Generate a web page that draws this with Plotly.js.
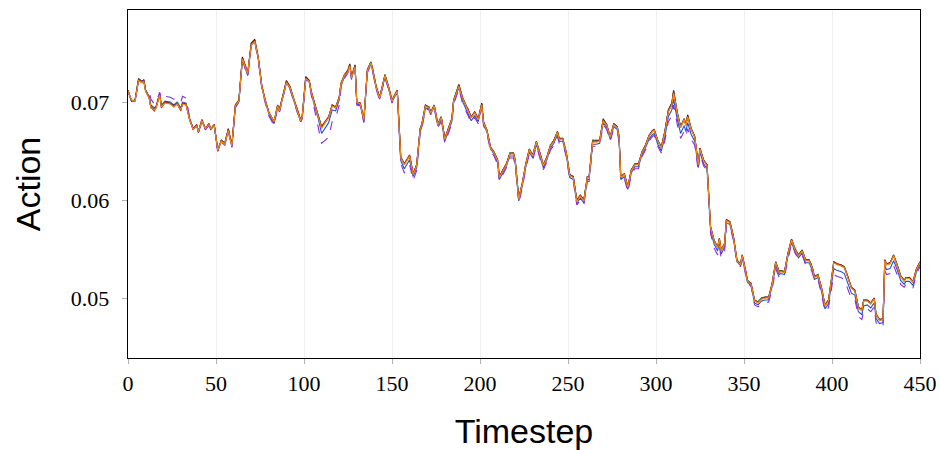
<!DOCTYPE html>
<html>
<head>
<meta charset="utf-8">
<script src="https://cdn.plot.ly/plotly-3.0.1.min.js"></script>
<style>html,body{margin:0;padding:0;background:#fff;}#chart{width:940px;height:450px;}</style>
</head>
<body>
<div id="chart"></div>
<script>
const timestep = [0,2,4,6,8,9,10,12,13,15,16,18,19,21,24,26,28,30,31,33,35,37,39,40,42,44,46,47,49,51,53,55,57,59,61,63,65,67,68,70,72,74,76,78,80,83,85,86,88,90,92,94,96,98,99,101,103,104,106,108,110,112,114,116,118,120,121,123,125,126,127,129,130,132,134,136,138,139,141,143,145,146,148,150,152,153,155,157,159,160,162,164,166,167,169,171,172,174,176,178,180,182,184,185,187,188,190,192,193,195,197,199,201,202,204,206,208,210,211,213,215,217,219,220,222,224,226,228,230,232,234,236,238,240,242,244,245,247,249,251,253,255,257,259,261,262,264,266,268,270,272,274,276,278,279,280,282,284,286,288,290,292,294,296,298,299,301,303,305,307,309,310,312,314,316,317,318,320,322,324,325,327,329,330,331,333,335,336,337,339,340,342,344,346,348,349,351,352,354,356,358,360,362,364,366,368,370,371,373,375,377,379,381,383,385,387,388,389,390,392,394,396,398,400,401,403,405,407,409,411,413,415,417,418,420,422,424,425,427,429,430,431,433,435,437,439,441,442,444,446,448,450];

const seriesBlack = [.0712,.0701,.0702,.0724,.0721,.0723,.0712,.0705,.0695,.0692,.0695,.0709,.0695,.0700,.0699,.0696,.0699,.0692,.0699,.0698,.0683,.0673,.0677,.0670,.0682,.0673,.0678,.0673,.0677,.0651,.0661,.0658,.0673,.0656,.0697,.0702,.0746,.0736,.0729,.0760,.0764,.0746,.0717,.0702,.0690,.0680,.0697,.0692,.0707,.0722,.0716,.0704,.0694,.0682,.0686,.0726,.0722,.0712,.0699,.0688,.0675,.0680,.0685,.0697,.0695,.0705,.0719,.0728,.0733,.0739,.0726,.0738,.0700,.0699,.0682,.0733,.0741,.0734,.0716,.0705,.0719,.0728,.0716,.0702,.0709,.0712,.0644,.0637,.0643,.0646,.0627,.0636,.0673,.0678,.0697,.0695,.0690,.0697,.0678,.0685,.0663,.0673,.0683,.0702,.0712,.0718,.0705,.0697,.0694,.0685,.0690,.0683,.0699,.0680,.0671,.0654,.0649,.0641,.0624,.0631,.0637,.0648,.0648,.0641,.0602,.0617,.0637,.0652,.0646,.0660,.0649,.0636,.0644,.0656,.0661,.0670,.0663,.0663,.0649,.0626,.0624,.0600,.0605,.0600,.0624,.0624,.0661,.0661,.0661,.0683,.0677,.0665,.0678,.0675,.0665,.0624,.0627,.0614,.0631,.0637,.0637,.0649,.0656,.0666,.0671,.0672,.0661,.0654,.0670,.0692,.0699,.0712,.0690,.0675,.0683,.0677,.0687,.0673,.0665,.0637,.0653,.0641,.0636,.0603,.0573,.0559,.0552,.0561,.0549,.0556,.0580,.0578,.0563,.0539,.0535,.0544,.0528,.0518,.0515,.0498,.0496,.0500,.0501,.0501,.0515,.0537,.0527,.0528,.0527,.0546,.0560,.0550,.0544,.0549,.0539,.0539,.0535,.0530,.0522,.0524,.0511,.0493,.0498,.0522,.0537,.0535,.0534,.0532,.0522,.0511,.0508,.0491,.0488,.0498,.0498,.0495,.0500,.0484,.0478,.0479,.0539,.0535,.0536,.0544,.0534,.0523,.0518,.0521,.0521,.0517,.0530,.0537];

const seriesOrange = [.0711,.0702,.0701,.0722,.0720,.0721,.0711,.0704,.0694,.0692,.0694,.0707,.0695,.0699,.0698,.0695,.0698,.0692,.0698,.0697,.0682,.0672,.0676,.0670,.0681,.0673,.0677,.0673,.0676,.0651,.0660,.0657,.0671,.0655,.0696,.0701,.0744,.0735,.0729,.0758,.0762,.0745,.0716,.0701,.0689,.0680,.0696,.0691,.0706,.0720,.0715,.0703,.0693,.0681,.0685,.0724,.0721,.0711,.0698,.0686,.0673,.0679,.0684,.0696,.0694,.0704,.0718,.0727,.0731,.0737,.0725,.0736,.0700,.0698,.0682,.0732,.0740,.0733,.0715,.0704,.0718,.0727,.0715,.0701,.0708,.0711,.0643,.0636,.0642,.0645,.0626,.0635,.0672,.0677,.0696,.0694,.0689,.0696,.0677,.0684,.0662,.0672,.0682,.0701,.0711,.0716,.0704,.0696,.0693,.0684,.0689,.0682,.0697,.0679,.0670,.0653,.0648,.0640,.0623,.0630,.0636,.0647,.0647,.0640,.0601,.0616,.0636,.0651,.0645,.0659,.0648,.0635,.0643,.0655,.0660,.0669,.0662,.0662,.0648,.0625,.0623,.0598,.0604,.0599,.0623,.0623,.0659,.0659,.0660,.0681,.0676,.0664,.0677,.0674,.0664,.0623,.0626,.0613,.0630,.0636,.0636,.0648,.0655,.0665,.0670,.0671,.0660,.0653,.0668,.0690,.0697,.0709,.0689,.0674,.0682,.0676,.0685,.0672,.0664,.0636,.0652,.0640,.0635,.0602,.0572,.0558,.0551,.0560,.0548,.0555,.0579,.0577,.0562,.0538,.0534,.0543,.0527,.0517,.0514,.0497,.0495,.0499,.0500,.0500,.0514,.0536,.0526,.0527,.0526,.0545,.0559,.0549,.0543,.0548,.0538,.0538,.0534,.0529,.0521,.0523,.0510,.0492,.0497,.0521,.0536,.0534,.0533,.0531,.0521,.0510,.0507,.0490,.0487,.0497,.0497,.0494,.0499,.0483,.0477,.0478,.0538,.0534,.0535,.0543,.0533,.0522,.0517,.0520,.0520,.0516,.0529,.0536];

const seriesRed = [.0712,.0701,.0702,.0723,.0720,.0722,.0712,.0704,.0695,.0691,.0695,.0708,.0694,.0700,.0698,.0696,.0698,.0691,.0699,.0697,.0683,.0672,.0677,.0669,.0682,.0672,.0678,.0672,.0677,.0650,.0661,.0657,.0672,.0656,.0697,.0701,.0745,.0736,.0728,.0759,.0763,.0746,.0717,.0701,.0690,.0679,.0696,.0692,.0706,.0721,.0716,.0703,.0694,.0682,.0685,.0725,.0722,.0711,.0699,.0687,.0674,.0680,.0685,.0697,.0694,.0705,.0718,.0727,.0732,.0738,.0726,.0737,.0699,.0699,.0681,.0733,.0740,.0734,.0716,.0704,.0719,.0727,.0716,.0702,.0708,.0712,.0643,.0637,.0642,.0646,.0627,.0635,.0673,.0677,.0697,.0694,.0690,.0696,.0678,.0684,.0663,.0672,.0683,.0701,.0712,.0717,.0705,.0696,.0694,.0684,.0690,.0683,.0698,.0680,.0670,.0654,.0648,.0641,.0623,.0631,.0637,.0647,.0648,.0640,.0602,.0616,.0637,.0651,.0646,.0659,.0649,.0635,.0644,.0655,.0661,.0669,.0663,.0662,.0649,.0625,.0624,.0599,.0605,.0600,.0623,.0624,.0660,.0660,.0661,.0682,.0677,.0664,.0678,.0674,.0665,.0623,.0627,.0613,.0631,.0636,.0637,.0648,.0656,.0665,.0671,.0671,.0660,.0654,.0669,.0691,.0698,.0711,.0689,.0675,.0682,.0677,.0686,.0672,.0665,.0636,.0653,.0640,.0636,.0602,.0573,.0558,.0552,.0560,.0549,.0555,.0580,.0577,.0563,.0538,.0535,.0543,.0528,.0517,.0515,.0497,.0496,.0499,.0501,.0500,.0515,.0536,.0527,.0527,.0527,.0545,.0560,.0549,.0544,.0548,.0539,.0538,.0535,.0529,.0522,.0523,.0511,.0492,.0498,.0521,.0537,.0534,.0534,.0531,.0522,.0510,.0508,.0490,.0488,.0497,.0498,.0494,.0500,.0483,.0478,.0478,.0539,.0534,.0536,.0543,.0534,.0522,.0518,.0520,.0521,.0516,.0530,.0536];

const seriesGreen = [.0711,.0702,.0701,.0723,.0721,.0722,.0711,.0705,.0694,.0692,.0694,.0708,.0696,.0699,.0699,.0695,.0699,.0692,.0698,.0698,.0682,.0673,.0676,.0670,.0681,.0673,.0677,.0673,.0676,.0652,.0660,.0658,.0672,.0655,.0696,.0702,.0745,.0735,.0729,.0759,.0763,.0745,.0716,.0702,.0689,.0680,.0697,.0691,.0707,.0721,.0715,.0704,.0693,.0681,.0686,.0725,.0721,.0712,.0698,.0687,.0674,.0679,.0684,.0696,.0695,.0704,.0719,.0728,.0732,.0738,.0725,.0737,.0700,.0698,.0682,.0732,.0741,.0733,.0715,.0705,.0718,.0728,.0715,.0701,.0709,.0711,.0644,.0636,.0643,.0645,.0626,.0636,.0672,.0678,.0696,.0695,.0689,.0697,.0677,.0685,.0662,.0673,.0682,.0702,.0711,.0717,.0704,.0697,.0693,.0685,.0689,.0682,.0698,.0679,.0671,.0653,.0649,.0640,.0624,.0630,.0636,.0648,.0647,.0641,.0601,.0617,.0636,.0652,.0645,.0660,.0648,.0636,.0643,.0656,.0660,.0670,.0662,.0663,.0648,.0626,.0623,.0600,.0604,.0600,.0624,.0623,.0661,.0660,.0660,.0682,.0676,.0665,.0677,.0675,.0664,.0624,.0626,.0614,.0630,.0637,.0636,.0649,.0655,.0666,.0670,.0672,.0661,.0653,.0669,.0691,.0698,.0710,.0690,.0674,.0683,.0676,.0686,.0673,.0664,.0637,.0652,.0641,.0635,.0603,.0572,.0559,.0551,.0561,.0548,.0556,.0579,.0578,.0562,.0539,.0534,.0544,.0527,.0518,.0514,.0498,.0495,.0500,.0500,.0501,.0514,.0537,.0526,.0528,.0526,.0546,.0559,.0550,.0543,.0549,.0538,.0539,.0534,.0530,.0521,.0524,.0510,.0493,.0497,.0522,.0536,.0535,.0533,.0532,.0521,.0511,.0507,.0491,.0487,.0498,.0497,.0495,.0499,.0484,.0477,.0479,.0538,.0535,.0535,.0544,.0533,.0523,.0517,.0521,.0520,.0517,.0529,.0537];

const seriesBlue = [.0711,.0701,.0701,.0722,.0720,.0721,.0712,.0706,.0697,.0694,.0696,.0708,.0697,.0701,.0700,.0697,.0700,.0694,.0700,.0699,.0682,.0672,.0676,.0669,.0681,.0672,.0677,.0672,.0676,.0650,.0660,.0657,.0671,.0654,.0695,.0700,.0744,.0734,.0727,.0758,.0762,.0744,.0715,.0700,.0688,.0678,.0695,.0690,.0705,.0720,.0714,.0702,.0692,.0680,.0684,.0724,.0720,.0710,.0696,.0684,.0668,.0673,.0679,.0692,.0691,.0702,.0716,.0726,.0731,.0737,.0724,.0736,.0698,.0697,.0680,.0731,.0739,.0732,.0714,.0703,.0717,.0726,.0714,.0700,.0707,.0710,.0640,.0632,.0638,.0641,.0624,.0633,.0670,.0675,.0694,.0693,.0688,.0695,.0676,.0682,.0660,.0670,.0680,.0699,.0709,.0715,.0701,.0693,.0690,.0681,.0686,.0680,.0696,.0678,.0669,.0652,.0647,.0638,.0621,.0628,.0635,.0645,.0645,.0638,.0599,.0614,.0634,.0649,.0643,.0657,.0646,.0633,.0641,.0653,.0658,.0667,.0660,.0660,.0646,.0623,.0621,.0597,.0602,.0597,.0621,.0621,.0657,.0657,.0658,.0679,.0674,.0662,.0675,.0672,.0662,.0621,.0624,.0611,.0628,.0634,.0634,.0646,.0653,.0662,.0667,.0668,.0657,.0650,.0664,.0685,.0692,.0703,.0683,.0668,.0676,.0670,.0679,.0667,.0660,.0633,.0649,.0637,.0632,.0599,.0569,.0555,.0548,.0557,.0545,.0552,.0577,.0575,.0560,.0537,.0533,.0541,.0526,.0516,.0513,.0495,.0493,.0497,.0498,.0498,.0512,.0533,.0524,.0525,.0524,.0543,.0557,.0547,.0541,.0546,.0536,.0536,.0532,.0527,.0519,.0521,.0507,.0489,.0494,.0516,.0530,.0528,.0527,.0525,.0515,.0505,.0503,.0486,.0483,.0492,.0493,.0490,.0495,.0479,.0474,.0475,.0533,.0529,.0530,.0538,.0529,.0518,.0514,.0517,.0517,.0513,.0527,.0534];

const seriesPurple = [.0711,.0702,.0701,.0721,.0722,.0720,.0714,.0711,.0703,.0698,.0700,.0710,.0703,.0706,.0705,.0703,.0704,.0700,.0706,.0704,.0685,.0672,.0676,.0669,.0680,.0672,.0676,.0671,.0676,.0650,.0659,.0656,.0670,.0653,.0694,.0700,.0743,.0733,.0726,.0757,.0761,.0743,.0714,.0699,.0686,.0676,.0694,.0689,.0704,.0719,.0713,.0701,.0691,.0679,.0683,.0723,.0719,.0708,.0692,.0676,.0658,.0661,.0664,.0680,.0684,.0697,.0714,.0724,.0730,.0736,.0723,.0735,.0697,.0696,.0679,.0730,.0738,.0731,.0713,.0702,.0716,.0725,.0713,.0699,.0706,.0709,.0637,.0628,.0632,.0636,.0620,.0630,.0668,.0673,.0693,.0692,.0687,.0694,.0674,.0680,.0658,.0668,.0678,.0697,.0708,.0714,.0699,.0691,.0688,.0679,.0684,.0678,.0694,.0676,.0667,.0650,.0645,.0636,.0619,.0626,.0633,.0643,.0643,.0636,.0597,.0612,.0632,.0647,.0641,.0655,.0644,.0631,.0639,.0651,.0656,.0665,.0658,.0658,.0644,.0621,.0619,.0595,.0600,.0595,.0619,.0619,.0655,.0655,.0656,.0677,.0672,.0660,.0673,.0670,.0660,.0619,.0622,.0608,.0626,.0632,.0632,.0644,.0651,.0660,.0665,.0666,.0655,.0648,.0660,.0680,.0686,.0697,.0678,.0663,.0670,.0665,.0673,.0662,.0656,.0630,.0647,.0635,.0630,.0597,.0566,.0551,.0544,.0553,.0541,.0548,.0575,.0573,.0559,.0536,.0532,.0540,.0525,.0515,.0512,.0493,.0491,.0494,.0495,.0496,.0509,.0530,.0521,.0522,.0522,.0541,.0556,.0546,.0540,.0544,.0534,.0534,.0530,.0525,.0517,.0519,.0504,.0486,.0490,.0510,.0524,.0522,.0521,.0519,.0510,.0499,.0499,.0481,.0478,.0488,.0489,.0486,.0491,.0475,.0470,.0471,.0528,.0524,.0525,.0533,.0524,.0514,.0511,.0514,.0514,.0510,.0525,.0532];

const xTickVals = [0,50,100,150,200,250,300,350,400,450];
const yTickVals = [0.05,0.06,0.07];
const yTickText = ['0.05','0.06','0.07'];

const lineDefs = [
  {y: seriesBlack, color: '#000000', dash: 'solid'},
  {y: seriesBlue, color: '#1f4fd8', dash: 'solid'},
  {y: seriesGreen, color: '#2e8b3a', dash: 'solid'},
  {y: seriesRed, color: '#c0181c', dash: 'solid'},
  {y: seriesPurple, color: '#8a2be2', dash: 'dash'},
  {y: seriesOrange, color: '#f28a1a', dash: 'solid'}
];

const traces = lineDefs.map(d => ({
  x: timestep, y: d.y, type: 'scatter', mode: 'lines',
  line: {color: d.color, width: 1.1, dash: d.dash},
  showlegend: false, hoverinfo: 'skip'
}));

const layout = {
  width: 940, height: 450,
  margin: {l: 128, r: 20, t: 10, b: 92},
  paper_bgcolor: '#ffffff', plot_bgcolor: '#ffffff',
  showlegend: false,
  xaxis: {
    range: [0, 450], tickvals: xTickVals, ticks: 'outside', ticklen: 5, tickcolor: '#b0b0b0',
    showgrid: true, gridcolor: '#f0f0f0', gridwidth: 1, zeroline: false,
    showline: true, linecolor: '#000000', linewidth: 1.3, mirror: true,
    tickfont: {family: 'Liberation Serif, serif', size: 22, color: '#000'},
    title: {text: 'Timestep', font: {family: 'Liberation Sans, Arial, sans-serif', size: 34, color: '#000'}, standoff: 25},
    automargin: false
  },
  yaxis: {
    range: [0.04388, 0.0794], tickvals: yTickVals, ticktext: yTickText, ticks: 'outside', ticklen: 5, tickcolor: '#b0b0b0',
    ticklabelstandoff: 8,
    showgrid: false, zeroline: false,
    showline: true, linecolor: '#000000', linewidth: 1.3, mirror: true,
    tickfont: {family: 'Liberation Serif, serif', size: 22, color: '#000'},
    title: {text: 'Action', font: {family: 'Liberation Sans, Arial, sans-serif', size: 34, color: '#000'}, standoff: 20},
    automargin: false
  }
};

Plotly.newPlot('chart', traces, layout, {displayModeBar: false, staticPlot: true});
</script>
</body>
</html>
